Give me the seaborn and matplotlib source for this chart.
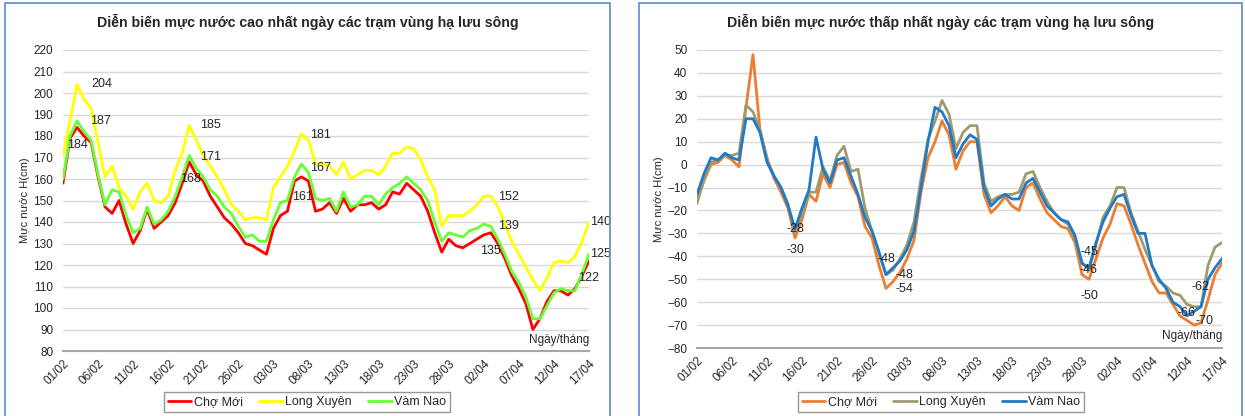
#importing module and library
import numpy as np
import pandas as pd
import seaborn as sns
import matplotlib
matplotlib.use("Agg")
import matplotlib.pyplot as plt
from matplotlib.patches import Rectangle

# daily data 01/02 -> 17/04
days = pd.date_range("2023-02-01", "2023-04-17", freq="D").strftime("%d/%m").tolist()
tick_labels = ["01/02", "06/02", "11/02", "16/02", "21/02", "26/02", "03/03", "08/03",
               "13/03", "18/03", "23/03", "28/03", "02/04", "07/04", "12/04", "17/04"]
stations = ["Chợ Mới", "Long Xuyên", "Vàm Nao"]

# highest daily water level (cm)
cho_moi_max = [158, 179, 184, 180, 177, 161, 147, 144, 150, 139, 130, 136, 146, 137, 140, 143,
               149, 158, 168, 162, 159, 152, 147, 142, 139, 135, 130, 129, 127, 125, 137, 143,
               145, 159, 161, 159, 145, 146, 149, 144, 151, 145, 148, 148, 149, 146, 148, 154,
               153, 158, 155, 152, 145, 135, 126, 132, 129, 128, 130, 132, 134, 135, 130, 123,
               115, 109, 102, 90, 95, 103, 108, 108, 106, 109, 115, 122]
long_xuyen_max = [171, 187, 204, 197, 193, 177, 161, 166, 156, 152, 146, 154, 158, 150, 149, 152,
                  164, 172, 185, 178, 171, 166, 161, 155, 148, 145, 141, 142, 142, 141, 156, 161,
                  166, 173, 181, 178, 167, 167, 166, 162, 168, 160, 162, 164, 164, 162, 166, 172,
                  172, 175, 174, 169, 161, 155, 138, 143, 143, 143, 145, 148, 152, 152, 147, 139,
                  131, 125, 119, 113, 108, 114, 121, 122, 121, 124, 131, 140]
vam_nao_max = [160, 180, 187, 182, 178, 162, 148, 155, 154, 143, 135, 137, 147, 139, 141, 145,
               152, 161, 171, 165, 161, 155, 152, 147, 144, 138, 133, 134, 131, 131, 141, 149,
               150, 161, 167, 163, 151, 150, 151, 145, 154, 147, 148, 152, 152, 148, 153, 156,
               158, 161, 158, 155, 150, 140, 131, 135, 134, 133, 136, 137, 139, 138, 132, 125,
               117, 112, 105, 95, 95, 101, 107, 109, 108, 108, 116, 125]

# lowest daily water level (cm)
cho_moi_min = [-16, -7, 0, 1, 4, 2, -1, 25, 48, 15, 3, -6, -12, -19, -32, -24,
               -13, -16, -4, -10, 0, 1, -8, -14, -27, -32, -44, -54, -51, -47, -41, -33,
               -12, 3, 10, 19, 13, -2, 6, 10, 10, -13, -21, -18, -14, -18, -20, -10,
               -8, -15, -21, -24, -27, -28, -34, -48, -50, -41, -32, -26, -17, -18, -26, -35,
               -43, -51, -56, -56, -61, -66, -68, -70, -69, -59, -48, -43]
long_xuyen_min = [-17, -6, 1, 2, 4, 4, 5, 26, 23, 15, 2, -5, -10, -17, -30, -22,
                  -12, -12, -1, -7, 4, 8, -3, -2, -19, -29, -39, -48, -46, -41, -35, -25,
                  -6, 11, 19, 28, 22, 7, 14, 17, 17, -8, -16, -14, -13, -13, -12, -4,
                  -3, -10, -16, -21, -24, -26, -32, -43, -46, -35, -23, -18, -10, -10, -21, -29,
                  -37, -44, -51, -53, -56, -57, -61, -62, -62, -44, -36, -34]
vam_nao_min = [-13, -4, 3, 2, 5, 3, 2, 20, 20, 14, 1, -5, -10, -18, -28, -19,
               -11, 12, -2, -8, 2, 3, -5, -13, -23, -29, -38, -48, -45, -42, -37, -29,
               -10, 10, 25, 23, 17, 3, 9, 13, 11, -10, -18, -15, -13, -15, -15, -8,
               -6, -12, -18, -21, -24, -25, -31, -43, -45, -34, -25, -19, -14, -13, -22, -30,
               -30, -44, -50, -54, -60, -62, -66, -64, -62, -50, -45, -41]

# data labels: (station, day index, x offset px, y offset px, ha)
labels_max = [("Long Xuyên", 2, 25, 0, "center"), ("Vàm Nao", 2, 23, 0, "center"),
              ("Chợ Mới", 2, 0, -18, "center"), ("Long Xuyên", 18, 21, 0, "center"),
              ("Vàm Nao", 18, 21, -2, "center"), ("Chợ Mới", 18, 1, -17, "center"),
              ("Long Xuyên", 34, 19, -1, "center"), ("Vàm Nao", 34, 19, -4, "center"),
              ("Chợ Mới", 34, 1, -20, "center"), ("Long Xuyên", 60, 25, -1, "center"),
              ("Vàm Nao", 60, 25, -2, "center"), ("Chợ Mới", 61, 0, -18, "center"),
              ("Long Xuyên", 75, 1, 0, "left"), ("Vàm Nao", 75, 1, 0, "left"),
              ("Chợ Mới", 75, 0, -17, "center")]
labels_min = [("Vàm Nao", 14, 0, 0, "center"), ("Long Xuyên", 14, 0, -17, "center"),
              ("Vàm Nao", 27, 0, 16, "center"), ("Long Xuyên", 27, 18, 0, "center"),
              ("Chợ Mới", 27, 18, -1, "center"), ("Vàm Nao", 56, 0, 16, "center"),
              ("Long Xuyên", 56, 0, 0, "center"), ("Chợ Mới", 56, 0, -17, "center"),
              ("Vàm Nao", 70, 0, 3, "center"), ("Chợ Mới", 71, 11, 4, "center"),
              ("Long Xuyên", 71, 6, 20, "center")]

sns.set_style("white")
plt.rcParams['font.family'] = ['Liberation Sans', 'DejaVu Sans']


def make_frame(a, b, c):
    df = pd.DataFrame({"day": np.arange(len(days)), "Chợ Mới": a, "Long Xuyên": b, "Vàm Nao": c})
    return df.melt(id_vars="day", var_name="station", value_name="value")


def draw_panel(fig, rect, frame, palette, ylim, yticks, title, labels, box, title_x, ylab_x, legend_x, note_y):
    ax = fig.add_axes(rect)
    sns.lineplot(data=frame, x="day", y="value", hue="station", hue_order=stations,
                 palette=palette, linewidth=2, ax=ax)
    ax.set_xlim(0, len(days) - 1)
    ax.set_ylim(*ylim)
    ax.set_yticks(yticks)
    ax.set_xticks([days.index(t) for t in tick_labels])
    ax.set_xticklabels(tick_labels, rotation=45, ha="right", rotation_mode="anchor", fontsize=8.5)
    ax.tick_params(axis="y", labelsize=8.5, length=0, pad=7)
    ax.tick_params(axis="x", length=0, pad=5)
    ax.grid(axis="y", color="#D9D9D9", linewidth=1)
    for s in ["top", "right", "left"]:
        ax.spines[s].set_visible(False)
    ax.spines["bottom"].set_color("#A6A6A6")
    ax.spines["bottom"].set_linewidth(1.5)
    ax.set_xlabel("")
    ax.set_ylabel("")
    fig.text(ylab_x, rect[1] + rect[3] / 2, "Mực nước H(cm)", rotation=90, ha="center",
             va="center", fontsize=8)
    fig.text(title_x, 1 - 22 / 416, title, ha="center", va="center", fontsize=10.2, fontweight="bold")
    # data labels
    for st, d, dx, dy, ha in labels:
        v = frame[(frame.station == st) & (frame.day == d)]["value"].iloc[0]
        ax.annotate(f"{v:.0f}", (d, v), xytext=(dx, dy), textcoords="offset pixels",
                    ha=ha, va="center", fontsize=9)
    ax.text(1.0, note_y, "Ngày/tháng", transform=ax.transAxes, ha="right", va="center", fontsize=8.5)
    handles, labs = ax.get_legend_handles_labels()
    ax.legend(handles, labs, loc="center", bbox_to_anchor=(legend_x, 1 - 402 / 416),
              bbox_transform=fig.transFigure, ncol=3, fontsize=9, frameon=True, fancybox=False,
              edgecolor="#7F7F7F", handlelength=1.9, handletextpad=0.2, columnspacing=1.3,
              borderpad=0.3)
    fig.patches.append(Rectangle((box[0] / 1245, -0.01), (box[1] - box[0]) / 1245, 1 - 3 / 416 + 0.01,
                                 transform=fig.transFigure, fill=False, edgecolor="#5B8BD0",
                                 linewidth=1.2))
    return ax


fig = plt.figure(figsize=(12.45, 4.16), dpi=100)

draw_panel(fig, [63 / 1245, 1 - 351 / 416, 526 / 1245, 301 / 416],
           make_frame(cho_moi_max, long_xuyen_max, vam_nao_max),
           {"Chợ Mới": "#FF0000", "Long Xuyên": "#FFFF00", "Vàm Nao": "#66FF33"},
           (80, 220), range(80, 221, 10),
           "Diễn biến mực nước cao nhất ngày các trạm vùng hạ lưu sông",
           labels_max, (5, 610), 308 / 1245, 25 / 1245, 307 / 1245, 0.035)

draw_panel(fig, [697 / 1245, 1 - 348 / 416, 525 / 1245, 298 / 416],
           make_frame(cho_moi_min, long_xuyen_min, vam_nao_min),
           {"Chợ Mới": "#ED7D31", "Long Xuyên": "#A09B6F", "Vàm Nao": "#1F7BC8"},
           (-80, 50), range(-80, 51, 10),
           "Diễn biến mực nước thấp nhất ngày các trạm vùng hạ lưu sông",
           labels_min, (639, 1242), 941 / 1245, 659 / 1245, 941 / 1245, 0.04)

plt.savefig("out.png", dpi=100)
